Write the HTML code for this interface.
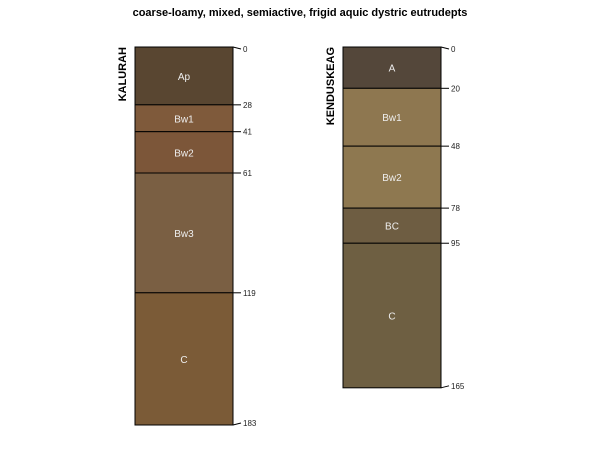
<!DOCTYPE html>
<html><head><meta charset="utf-8"><style>
body{margin:0;background:#fff;width:600px;height:450px;overflow:hidden}
svg text{font-family:"Liberation Sans",sans-serif}
</style></head><body>
<svg id="c" width="600" height="450">
<text x="300" y="16" text-anchor="middle" font-size="11" font-weight="bold">coarse-loamy, mixed, semiactive, frigid aquic dystric eutrudepts</text>
</svg>
<script>
const profileNames=["KALURAH","KENDUSKEAG"];
const kalTops=[0,28,41,61,119];
const kalBottoms=[28,41,61,119,183];
const kalHorizons=["Ap","Bw1","Bw2","Bw3","C"];
const kalColors=["#594631","#7f5a3b","#7c5639","#7a5f43","#7b5b37"];
const kenTops=[0,20,48,78,95];
const kenBottoms=[20,48,78,95,165];
const kenHorizons=["A","Bw1","Bw2","BC","C"];
const kenColors=["#54473a","#8e7750","#8e7850","#6e5d42","#6e5f42"];
const NS="http://www.w3.org/2000/svg";
const svg=document.getElementById('c');
const top0=47, pxPerCm=(425-47)/183, colW=98;
const y=d=>top0+d*pxPerCm;
function mk(t,a){const e=document.createElementNS(NS,t);for(const k in a)e.setAttribute(k,a[k]);svg.appendChild(e);return e;}
function draw(x0,name,tops,bots,hz,cols){
  const lbl=mk('text',{x:0,y:0,'font-size':11,'font-weight':'bold','text-anchor':'end',transform:`translate(${x0-9},${top0}) rotate(-90)`});
  lbl.textContent=name;
  
  
  for(let i=0;i<tops.length;i++){
    const r=mk('rect',{x:x0,y:y(tops[i]),width:colW,height:y(bots[i])-y(tops[i]),fill:cols[i],stroke:'#000','stroke-width':1});
    
    
    const t=mk('text',{x:x0+colW/2,y:(y(tops[i])+y(bots[i]))/2+4,'text-anchor':'middle','font-size':10,fill:'#eee'});
    t.textContent=hz[i];
    
    
  }
  const depths=tops.concat([bots[bots.length-1]]);
  depths.forEach((d,i)=>{
    let ly=y(d);
    if(i===0) ly+=2; if(i===depths.length-1) ly-=2;
    const l=mk('line',{x1:x0+colW,y1:y(d),x2:x0+colW+8,y2:ly,stroke:'#000','stroke-width':1});
    
    
    const t=mk('text',{x:x0+colW+10,y:ly+3,'font-size':8,fill:'#222'});
    t.textContent=d;
    
    
  });
}
draw(135,profileNames[0],kalTops,kalBottoms,kalHorizons,kalColors);
draw(343,profileNames[1],kenTops,kenBottoms,kenHorizons,kenColors);
</script>
</body></html>
